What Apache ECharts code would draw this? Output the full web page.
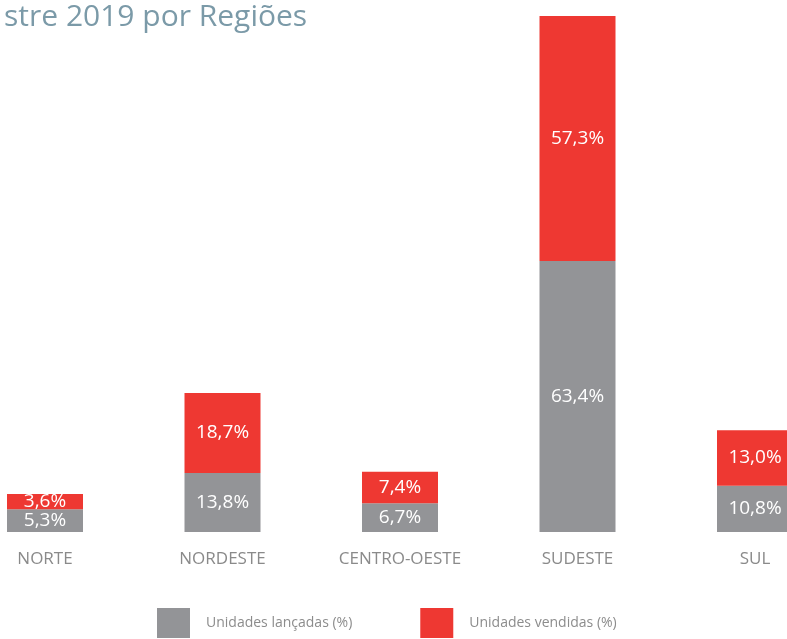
<!DOCTYPE html>
<html>
<head>
<meta charset="utf-8">
<script src="https://cdn.jsdelivr.net/npm/echarts@6/dist/echarts.min.js"></script>
<style>html,body{margin:0;padding:0;background:#fff}#c{width:787px;height:639px}</style>
</head>
<body>
<div id="c"></div>
<script>
const titleText = "stre 2019 por Regiões";
const categories = ["NORTE", "NORDESTE", "CENTRO-OESTE", "SUDESTE", "SUL"];
const lancadas = [5.3, 13.8, 6.7, 63.4, 10.8];
const vendidas = [3.6, 18.7, 7.4, 57.3, 13.0];
const seriesNames = ["Unidades lançadas (%)", "Unidades vendidas (%)"];

const FONT = "'Open Sans', 'Noto Sans', sans-serif";
const fmt = v => v.toFixed(1).replace('.', ',') + '%';

const chart = echarts.init(document.getElementById('c'), null, {renderer: 'canvas'});
chart.setOption({
  animation: false,
  backgroundColor: '#fff',
  title: {
    text: titleText, left: -1, top: -3,
    textStyle: {color: '#7b9aa8', fontSize: 30, fontWeight: 'normal', fontFamily: FONT}
  },
  legend: {
    left: 152, top: 603,
    itemWidth: 33, itemHeight: 30, itemGap: 68,
    icon: 'rect',
    textStyle: {color: '#8c8c8c', fontSize: 14, fontFamily: FONT, padding: [0, 0, 0, 11]},
    data: seriesNames
  },
  grid: {left: 45, right: 32, top: 16, bottom: 107, containLabel: false},
  xAxis: {
    type: 'category', data: categories, boundaryGap: false,
    axisLine: {show: false}, axisTick: {show: false}, splitLine: {show: false},
    axisLabel: {color: '#8a8a8a', fontSize: 17, fontFamily: FONT, margin: 19}
  },
  yAxis: {type: 'value', min: 0, max: 120.7, show: false, splitLine: {show: false}},
  series: [
    {
      name: seriesNames[0], type: 'bar', stack: 's', data: lancadas, barWidth: 76, clip: false,
      itemStyle: {color: '#939497'},
      label: {show: true, position: 'inside', color: '#fff', fontSize: 19, fontFamily: FONT,
              formatter: p => fmt(p.value)}
    },
    {
      name: seriesNames[1], type: 'bar', stack: 's', data: vendidas, barWidth: 76, clip: false,
      itemStyle: {color: '#ee3832'},
      label: {show: true, position: 'inside', color: '#fff', fontSize: 19, fontFamily: FONT,
              formatter: p => fmt(p.value)}
    }
  ]
});
</script>
</body>
</html>
